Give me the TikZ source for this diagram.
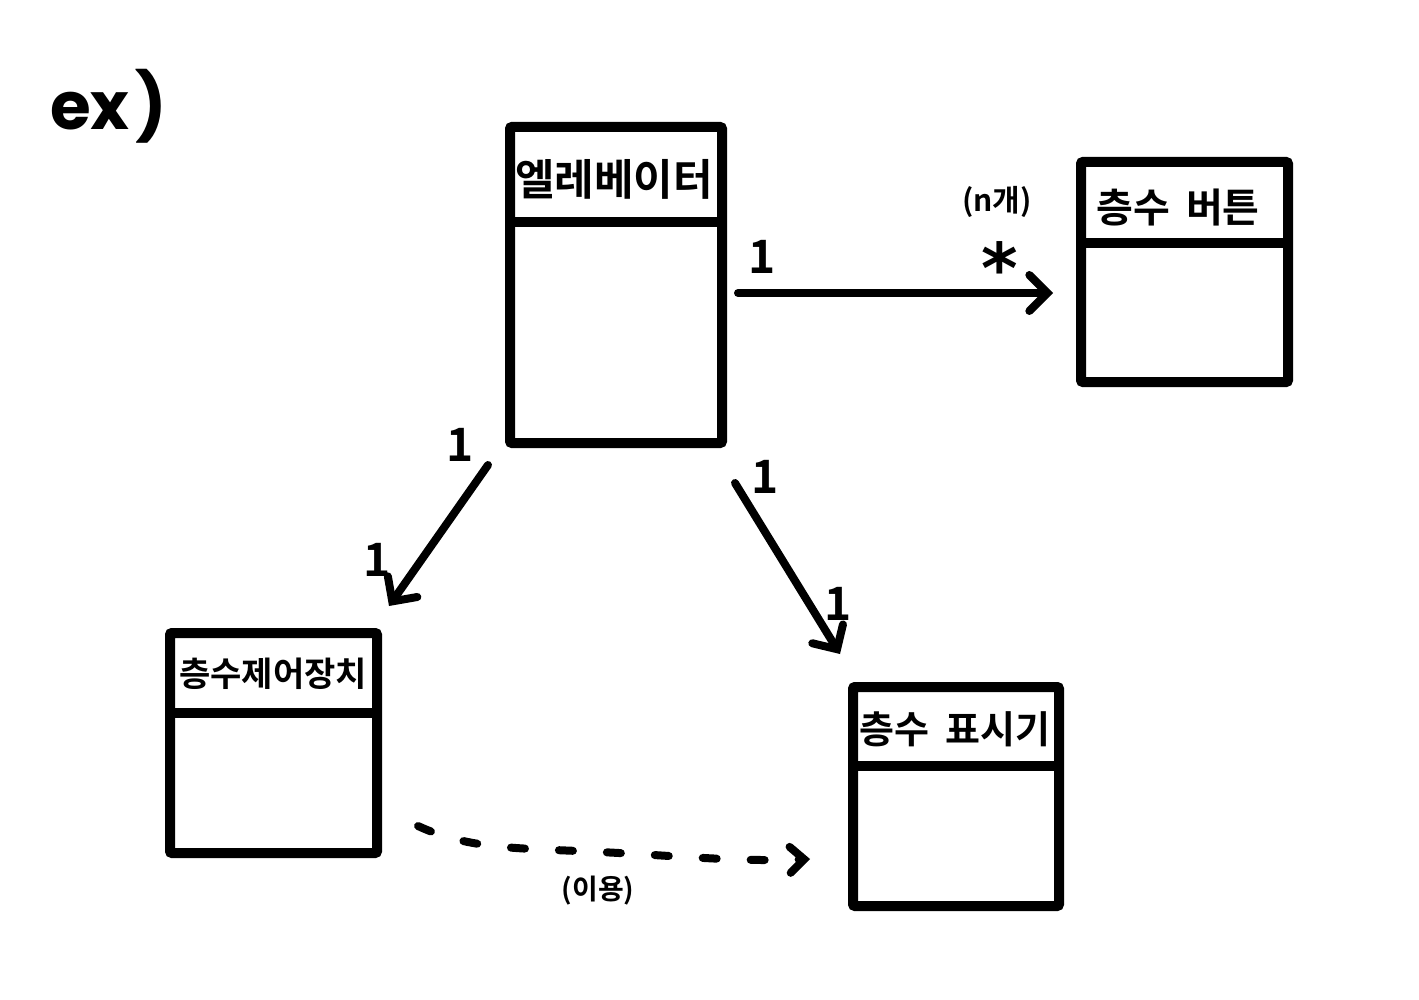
\documentclass[tikz,border=0pt]{standalone}
\usepackage{fontspec}
\newfontfamily\kr{Noto Sans CJK KR}[BoldFont={* Bold}]
\newfontfamily\exfont{Poppins}
\newfontfamily\starfont{DejaVu Sans}
\usetikzlibrary{arrows.meta}
\begin{document}
\begin{tikzpicture}[x=1pt,y=-1pt,
  box/.style={draw,line width=10pt,rounded corners=2pt,inner sep=0pt},
  divider/.style={line width=10pt,line cap=butt},
  title/.style={font=\kr\bfseries\fontsize{43}{43}\selectfont,inner sep=0pt},
  mult/.style={font=\kr\bfseries\fontsize{46}{46}\selectfont,inner sep=0pt},
  note/.style={font=\kr\bfseries\fontsize{28}{28}\selectfont,inner sep=0pt},
  conn/.style={line width=8pt,line cap=round,-{Straight Barb[length=18pt,width=36pt,line width=8pt,line cap=round]}},
  dashconn/.style={line width=8pt,line cap=round,dash pattern=on 14pt off 34pt,-{Straight Barb[length=14pt,width=26pt,line width=8pt,line cap=round]}}
]
\useasboundingbox[fill=white] (0,0) rectangle (1419,1000);

% ex)
\node[font=\exfont\bfseries\fontsize{66}{66}\selectfont,inner sep=0pt,anchor=base west] (ex) at (50,130) {ex\hspace{6pt})};

% boxes
\node[box,minimum width=212pt,minimum height=316pt] (elev) at (616,285) {};
\draw[divider] (elev.west |- 0,222) -- (elev.east |- 0,222);
\node[title] (elevT) at (614,179) {엘레베이터};

\node[box,minimum width=207pt,minimum height=220pt] (btn) at (1184.5,272) {};
\draw[divider,line cap=round] ([xshift=5pt]btn.west |- 0,243) -- (1283,243);
\node[title,font=\kr\bfseries\fontsize{40}{40}\selectfont] (btnT) at (1178,208) {층수\hspace{16pt}버튼};

\node[box,minimum width=207pt,minimum height=220pt] (ctrl) at (273.5,743) {};
\draw[divider,line cap=round] ([xshift=5pt]ctrl.west |- 0,713) -- (372,713);
\node[title,font=\kr\bfseries\fontsize{34}{34}\selectfont] (ctrlT) at (273,674) {층수제어장치};

\node[box,minimum width=206pt,minimum height=219pt] (disp) at (956,796.5) {};
\draw[divider,line cap=round] ([xshift=5pt]disp.west |- 0,766) -- (1054,766);
\node[title,font=\kr\bfseries\fontsize{38}{38}\selectfont] (dispT) at (955,729) {층수\hspace{16pt}표시기};

% connector ends
\coordinate (a1) at (738,293);
\coordinate (a2) at (1053,293);
\coordinate (b1) at (488,465);
\coordinate (b2) at (389,606);
\coordinate (c1) at (735,483);
\coordinate (c2) at (840,654);
\coordinate (d1) at (418,826);
\coordinate (d2) at (810,859);

\draw[conn] (a1) -- (a2);
\draw[conn] (b1) -- (b2);
\draw[conn] (c1) -- (c2);
\draw[dashconn] (d1) .. controls (470,850) and (520,848) .. (600,852) .. controls (680,856) and (740,862) .. (d2);

% multiplicities
\node[mult] (m1) at (762,257) {1};
\node[mult] (m2) at (460,445) {1};
\node[mult] (m3) at (377,560) {1};
\node[mult] (m4) at (765,477) {1};
\node[mult] (m5) at (838,604) {1};
\node[font=\starfont\bfseries\fontsize{70}{70}\selectfont,inner sep=0pt] (star) at (1000,268) {*};
\node[note,font=\kr\bfseries\fontsize{30}{30}\selectfont] (n) at (997,202) {(n개)};
\node[note] (use) at (598,891) {(이용)};
\end{tikzpicture}
\end{document}
